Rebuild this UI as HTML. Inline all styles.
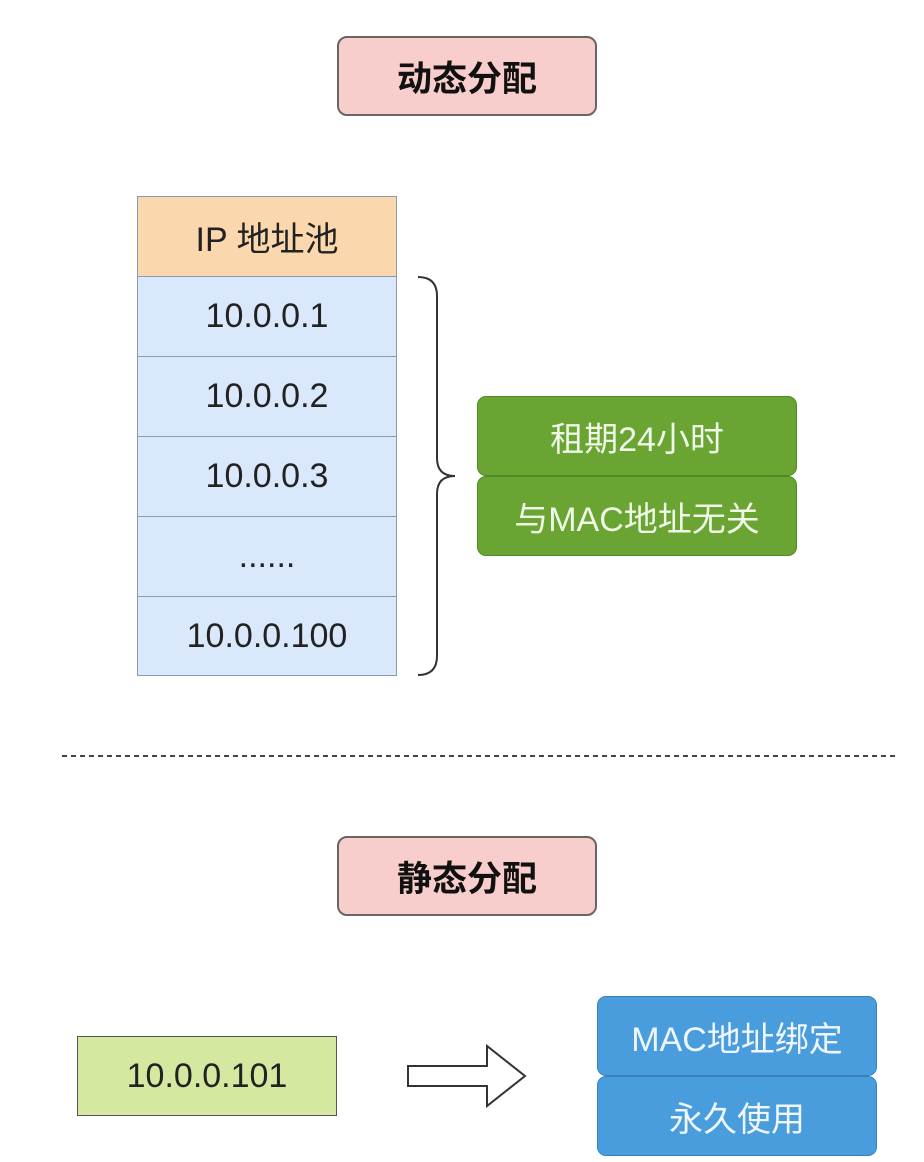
<!DOCTYPE html>
<html><head><meta charset="utf-8"><style>
body{margin:0;width:924px;height:1162px;background:#fff;position:relative;overflow:hidden;font-family:"Liberation Sans","Noto Sans CJK SC",sans-serif}
.b{position:absolute;box-sizing:border-box;display:flex;align-items:center;justify-content:center;font-size:34px;color:#222}
.pink{background:#f8cecc;border:2px solid #666;border-radius:10px;font-weight:bold;color:#111;font-size:35px}
.cell{background:#dae8fc;border:1.5px solid #8a9bb0;}
.g{background:#6aa534;border:1.5px solid #4f8a24;border-radius:9px;color:#f0f8e8}
.bl{background:#4a9ddc;border:1.5px solid #3a80c0;border-radius:9px;color:#f0f6ff}
</style></head><body>
<div class="b pink" style="left:337px;top:36px;width:260px;height:80px">动态分配</div>
<div class="b" style="left:137px;top:196px;width:260px;height:81px;background:#fad7ac;border:1.5px solid #8a9bb0">IP 地址池</div>
<div class="b cell" style="left:137px;top:276px;width:260px;height:81px">10.0.0.1</div>
<div class="b cell" style="left:137px;top:356px;width:260px;height:81px">10.0.0.2</div>
<div class="b cell" style="left:137px;top:436px;width:260px;height:81px">10.0.0.3</div>
<div class="b cell" style="left:137px;top:516px;width:260px;height:81px">......</div>
<div class="b cell" style="left:137px;top:596px;width:260px;height:80px">10.0.0.100</div>
<svg style="position:absolute;left:0;top:0" width="924" height="1162">
<path d="M418 277 Q437 277 437 296 L437 458 Q437 476 455 476 Q437 476 437 494 L437 656 Q437 675 418 675" fill="none" stroke="#333" stroke-width="2"/>
<line x1="62" y1="756" x2="898" y2="756" stroke="#444" stroke-width="2" stroke-dasharray="5,4"/>
<path d="M408 1066 L487 1066 L487 1046 L525 1076 L487 1106 L487 1086 L408 1086 Z" fill="#fff" stroke="#333" stroke-width="2"/>
</svg>
<div class="b g" style="left:477px;top:396px;width:320px;height:80px">租期24小时</div>
<div class="b g" style="left:477px;top:476px;width:320px;height:80px">与MAC地址无关</div>
<div class="b pink" style="left:337px;top:836px;width:260px;height:80px">静态分配</div>
<div class="b" style="left:77px;top:1036px;width:260px;height:80px;background:#d5e8a0;border:1.5px solid #555">10.0.0.101</div>
<div class="b bl" style="left:597px;top:996px;width:280px;height:80px">MAC地址绑定</div>
<div class="b bl" style="left:597px;top:1076px;width:280px;height:80px">永久使用</div>
</body></html>
